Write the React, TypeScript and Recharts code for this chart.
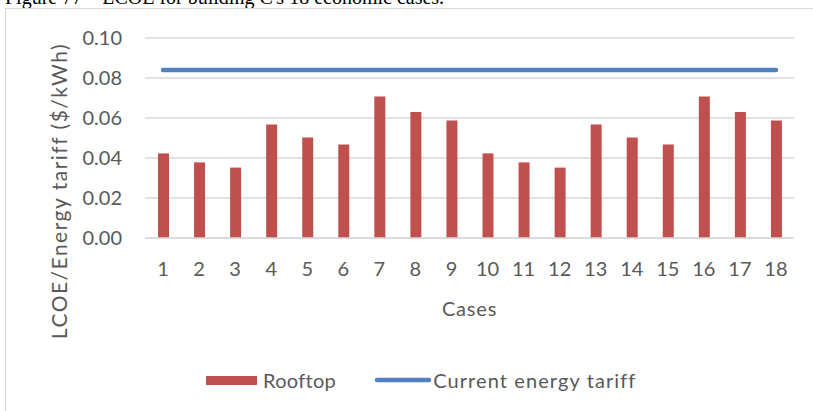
import React from "react";
import {
  ComposedChart,
  Bar,
  Line,
  XAxis,
  YAxis,
  CartesianGrid,
  Legend,
} from "recharts";

const cases = ["1", "2", "3", "4", "5", "6", "7", "8", "9", "10", "11", "12", "13", "14", "15", "16", "17", "18"];
const rooftop = [
  0.0423, 0.0378, 0.0352, 0.0567, 0.0503, 0.0468, 0.0708, 0.063, 0.0587,
  0.0423, 0.0378, 0.0352, 0.0567, 0.0503, 0.0468, 0.0708, 0.063, 0.0587,
];
const tariff = [
  0.084, 0.084, 0.084, 0.084, 0.084, 0.084, 0.084, 0.084, 0.084,
  0.084, 0.084, 0.084, 0.084, 0.084, 0.084, 0.084, 0.084, 0.084,
];
const yTicks = [0, 0.02, 0.04, 0.06, 0.08, 0.1];

const data = cases.map((c, i) => ({ c, rooftop: rooftop[i], tariff: tariff[i] }));

const FONT = "Lato, 'Open Sans', sans-serif";
const INK = "#595959";
const GRID = "#d9d9d9";
const RED = "#C0504D";
const BLUE = "#4F81BD";

function LegendBox() {
  return (
    <div
      style={{
        display: "flex",
        alignItems: "center",
        height: 24,
        fontFamily: FONT,
        fontSize: 20,
        color: INK,
      }}
    >
      <span style={{ width: 51, height: 9, background: RED, display: "inline-block" }} />
      <span style={{ marginLeft: 6, letterSpacing: 0.3 }}>Rooftop</span>
      <svg width={59} height={10} style={{ marginLeft: 38 }}>
        <line x1={3} y1={5} x2={55} y2={5} stroke={BLUE} strokeWidth={4.5} strokeLinecap="round" />
      </svg>
      <span style={{ letterSpacing: 1.1 }}>Current energy tariff</span>
    </div>
  );
}

function YTitle(props: any) {
  const vb = props.viewBox || {};
  return (
    <text
      x={vb.x + 58}
      y={vb.y + 153}
      transform={`rotate(-90, ${vb.x + 58}, ${vb.y + 153})`}
      textAnchor="middle"
      dominantBaseline="central"
      fill={INK}
      style={{ fontFamily: FONT, fontSize: 21, letterSpacing: 1.5 }}
    >
      LCOE/Energy tariff ($/kWh)
    </text>
  );
}

export default function App() {
  return (
    <div style={{ position: "absolute", left: 0, top: 0, width: 813, height: 411, overflow: "hidden", background: "#fff" }}>
      <div
        style={{
          position: "absolute",
          left: 5,
          top: -13,
          fontFamily: "'Liberation Serif', 'Times New Roman', serif",
          fontSize: 20,
          lineHeight: "20px",
          color: "#000",
          whiteSpace: "nowrap",
        }}
      >
        Figure 77 – LCOE for building C's 18 economic cases.
      </div>
      <div
        style={{
          position: "absolute",
          left: 5,
          top: 8,
          width: 830,
          height: 420,
          border: `1px solid ${GRID}`,
        }}
      />
      <div style={{ position: "absolute", left: 0, top: 0 }}>
        <ComposedChart
          width={813}
          height={411}
          data={data}
          margin={{ top: 38, right: 19, left: 0, bottom: 19 }}
        >
          <CartesianGrid vertical={false} stroke={GRID} strokeWidth={1.3} />
          <XAxis
            dataKey="c"
            height={130}
            axisLine={{ stroke: GRID, strokeWidth: 1.3 }}
            tickLine={false}
            tickMargin={18}
            tick={{ fill: INK, fontSize: 20, fontFamily: FONT }}
            interval={0}
            label={{
              value: "Cases",
              position: "insideTop",
              offset: 64,
              fill: INK,
              style: { fontFamily: FONT, fontSize: 20, letterSpacing: 0.8 },
            }}
          />
          <YAxis
            width={145}
            domain={[0, 0.1]}
            ticks={yTicks}
            tickFormatter={(v: number) => v.toFixed(2)}
            axisLine={false}
            tickLine={false}
            tickMargin={17}
            tick={{ fill: INK, fontSize: 20, fontFamily: FONT }}
            label={{ content: YTitle }}
          />
          <Legend
            verticalAlign="bottom"
            height={24}
            content={() => <LegendBox />}
            wrapperStyle={{ left: 206, width: "auto" }}
          />
          <Bar dataKey="rooftop" name="Rooftop" fill={RED} barSize={11} isAnimationActive={false} />
          <Line
            dataKey="tariff"
            name="Current energy tariff"
            type="linear"
            stroke={BLUE}
            strokeWidth={4.5}
            strokeLinecap="round"
            dot={false}
            activeDot={false}
            isAnimationActive={false}
          />
        </ComposedChart>
      </div>
    </div>
  );
}
